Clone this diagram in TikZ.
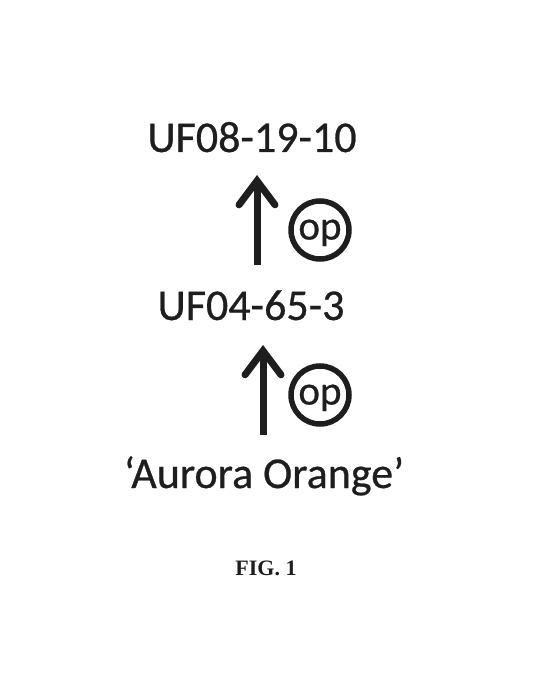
\documentclass[tikz,border=0pt]{standalone}
\usepackage{fontspec}
\setmainfont[FakeBold=0.6]{Carlito}
\newfontfamily\figfont{Liberation Serif}
\usetikzlibrary{arrows.meta,calc}
\definecolor{ink}{RGB}{30,30,30}
\tikzset{
  lbl/.style={inner sep=0pt, anchor=base, text=ink, font=\fontsize{44}{50}\selectfont},
  opcirc/.style={circle, draw=ink, line width=5.5pt, minimum size=58pt, inner sep=0pt, text=ink, text height=19pt, text depth=0pt, font=\fontsize{41}{44}\selectfont},
  uparrow/.style={draw=ink, line width=7pt, -{Straight Barb[length=24pt,width=36pt,line cap=round]}}
}
\begin{document}
\begin{tikzpicture}[x=1pt,y=-1pt]
\useasboundingbox (0,0) rectangle (553,700);
\node[lbl] (c) at (252,152) {UF08-19-10};
\node[lbl] (b) at (251,320) {UF04-65-3};
\node[lbl] (a) at (264,488) {‘Aurora Orange’};
\node[inner sep=0pt, anchor=base, text=ink, font=\figfont\bfseries\fontsize{22}{24}\selectfont] (fig) at (266,575) {FIG. 1};
\coordinate (a1s) at (263,435);
\coordinate (a1e) at (263,345);
\coordinate (a2s) at (257,265);
\coordinate (a2e) at (257,175);
\draw[uparrow] (a1s) -- (a1e);
\draw[uparrow] (a2s) -- (a2e);
\node[opcirc] (op1) at (320,230) {op};
\node[opcirc] (op2) at (320,395) {op};
\end{tikzpicture}
\end{document}
